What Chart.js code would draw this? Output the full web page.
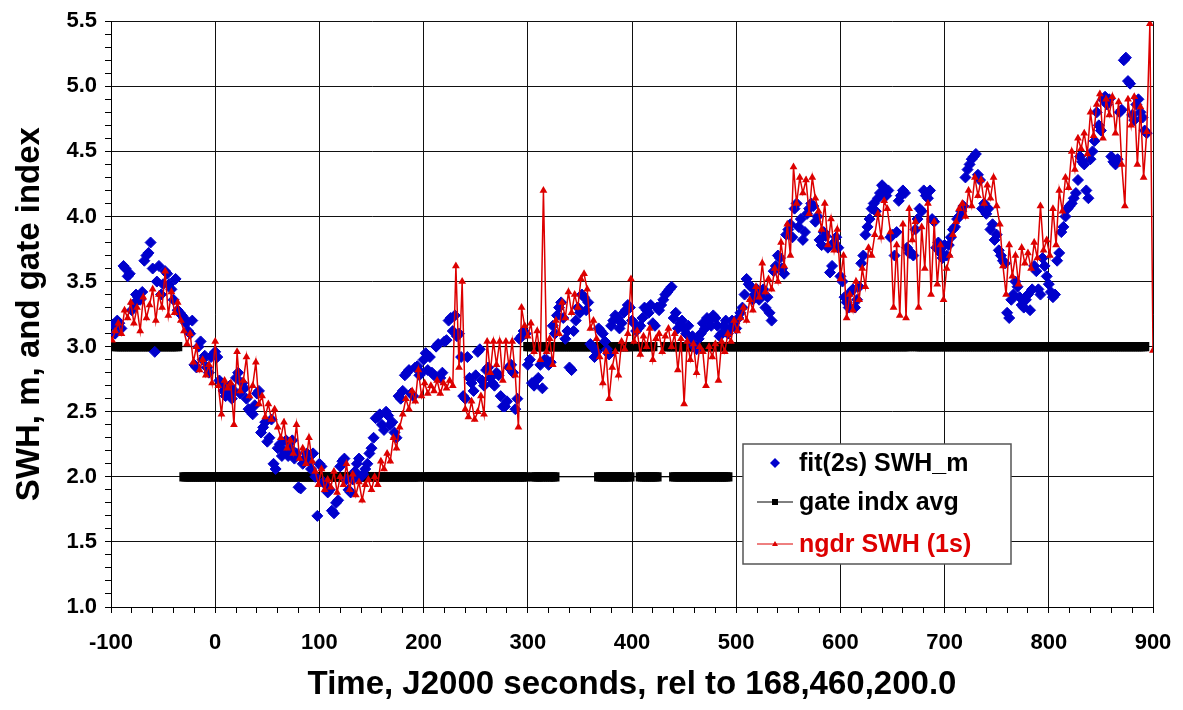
<!DOCTYPE html>
<html>
<head>
<meta charset="utf-8">
<script src="https://cdn.jsdelivr.net/npm/chart.js@4.4.0/dist/chart.umd.min.js"></script>
<style>
  body { margin: 0; background: #fff; }
  #caja { width: 1183px; height: 710px; }
</style>
</head>
<body>
<div id="caja"><canvas id="grafica" width="1183" height="710"></canvas></div>
<script>
// fit(2s) SWH_m  -> one value every 2 s, first point at t = -98
const fitStart = -98, fitStep = 2;
const fitSWH = [
  3.17,3.10, 3.20,3.18, 3.14,3.62, 3.60,3.54, 3.56,3.28, 3.33,3.40, 3.38,3.36, 3.42,3.66, 3.70,3.72, 3.80,3.60,
  2.96,3.50, 3.62,3.40, 3.48,3.58, 3.56,3.48, 3.44,3.36, 3.52,3.28, 3.26,3.24, 3.22,3.18, 3.12,3.10, 3.20,2.86,
  2.84,3.00, 3.04,2.90, 2.93,2.84, 2.80,2.92, 2.94,2.96, 2.92,2.74, 2.72,2.66, 2.62,2.64, 2.70,2.60, 2.66,2.76,
  2.80,2.64, 2.72,2.68, 2.60,2.52, 2.50,2.48, 2.55,2.64, 2.66,2.34, 2.38,2.42, 2.27,2.30, 2.44,2.10, 2.06,2.22,
  2.25,2.16, 2.20,2.28, 2.16,2.22, 2.28,2.14, 2.18,1.92, 1.91,2.10, 2.14,2.18, 2.12,2.06, 2.18,2.00, 1.70,2.10,
  2.08,1.96, 1.94,1.88, 1.90,1.74, 1.72,1.80, 1.82,2.08, 2.12,2.14, 1.98,1.90, 1.88,1.98, 2.04,2.10, 2.14,2.00,
  2.02,2.06, 2.10,2.18, 2.22,2.30, 2.45,2.46, 2.48,2.40, 2.36,2.50, 2.47,2.40, 2.42,2.34, 2.30,2.62, 2.60,2.66,
  2.78,2.80, 2.82,2.64, 2.62,2.84, 2.85,2.78, 2.80,2.90, 2.95,2.82, 2.92,2.80, 2.78,3.00, 3.02,2.76, 2.80,3.04,
  3.05,3.20, 3.22,3.12, 3.24,3.08, 3.10,2.92, 2.62,2.60, 2.92,2.76, 2.72,2.66, 2.78,2.96, 2.98,2.74, 2.70,2.82,
  2.84,2.76, 2.72,2.70, 2.80,2.78, 2.62,2.54, 2.54,2.58, 2.84,2.86, 2.80,2.52, 2.60,3.06, 3.08,3.12, 3.10,2.86,
  2.90,2.72, 2.70,2.74, 2.76,2.86, 2.68,2.90, 2.90,2.86, 2.88,3.16, 3.10,3.24, 3.30,3.34, 3.22,3.06, 3.12,2.84,
  2.82,3.12, 3.20,3.30, 3.26,3.40, 3.38,3.28, 3.34,3.02, 3.00,2.92, 2.96,3.14, 3.12,3.10, 3.04,2.98, 2.94,3.16,
  3.20,3.24, 3.22,3.14, 3.18,3.26, 3.28,3.32, 3.30,3.20, 3.18,3.12, 3.14,3.16, 3.22,3.30, 3.28,3.26, 3.32,3.18,
  3.16,3.30, 3.28,3.32, 3.36,3.40, 3.42,3.44, 3.46,3.22, 3.26,3.14, 3.18,3.20, 3.14,3.10, 3.16,3.04, 3.08,3.00,
  2.98,3.06, 3.10,3.18, 3.14,3.22, 3.20,3.16, 3.24,3.22, 3.16,3.08, 3.10,3.16, 3.20,3.10, 3.14,3.20, 3.18,3.14,
  3.22,3.26, 3.30,3.40, 3.52,3.48, 3.46,3.36, 3.40,3.44, 3.36,3.40, 3.44,3.30, 3.38,3.26, 3.20,3.58, 3.62,3.70,
  3.68,3.60, 3.56,3.86, 3.90,3.94, 3.84,4.06, 4.10,3.92, 3.98,3.82, 3.88,4.02, 4.06,4.10, 4.08,3.96, 4.00,3.82,
  3.78,3.88, 3.85,3.76, 3.57,3.62, 3.80,3.84, 3.76,3.54, 3.50,3.38, 3.34,3.30, 3.42,3.44, 3.30,3.36, 3.46,3.64,
  3.70,3.86, 3.92,3.98, 4.06,4.10, 4.04,4.14, 4.18,4.24, 4.22,4.16, 4.20,3.84, 3.86,3.70, 3.88,4.12, 4.16,4.20,
  4.18,3.76, 3.72,3.72, 3.70,3.90, 3.98,4.06, 4.04,4.20, 4.16,4.14, 4.20,3.98, 3.96,3.76, 3.80,3.72, 3.68,3.78,
  3.70,3.78, 3.84,3.90, 3.92,3.98, 4.00,4.04, 4.08,4.30, 4.36,4.40, 4.44,4.46, 4.48,4.32, 4.28,4.06, 4.10,4.02,
  4.06,3.90, 3.94,3.82, 3.86,3.74, 3.70,3.66, 3.64,3.26, 3.22,3.36, 3.40,3.50, 3.46,3.38, 3.32,3.30, 3.36,3.40,
  3.28,3.44, 3.62,3.58, 3.44,3.40, 3.68,3.62, 3.54,3.48, 3.42,3.38, 3.40,3.66, 3.72,3.88, 3.92,4.00, 4.06,4.08,
  4.10,4.14, 4.18,4.28, 4.46,4.42, 4.40,4.20, 4.14,4.44, 4.50,4.58, 4.80,4.70, 4.66,4.90, 4.92,4.86, 4.90,4.46,
  4.42,4.40, 4.44,4.80, 4.82,5.20, 5.22,5.04, 5.02,4.78, 4.74,4.86, 4.90,4.80, 4.76,4.66, 4.64
];

const ngdrStart = -99, ngdrStep = 3;
const ngdrSWH = [
  3.05, 3.12, 3.18, 3.10, 3.28, 3.22, 3.34, 3.18, 3.30, 3.12,
  3.38, 3.22, 3.32, 3.44, 3.20, 3.40, 3.30, 3.58, 3.24, 3.42,
  3.26, 3.34, 3.20, 3.12, 3.02, 3.10, 2.88, 3.00, 2.82, 2.90,
  2.78, 2.86, 2.72, 3.04, 2.70, 2.48, 2.74, 2.68, 2.72, 2.40,
  2.96, 2.66, 2.74, 2.92, 2.62, 2.70, 2.88, 2.56, 2.62, 2.46,
  2.56, 2.44, 2.52, 2.38, 2.30, 2.42, 2.22, 2.28, 2.18, 2.40,
  2.14, 2.22, 2.10, 2.30, 2.12, 2.04, 1.94, 2.06, 1.90, 1.98,
  1.92, 2.04, 1.88, 2.00, 1.94, 2.10, 1.90, 2.02, 1.86, 1.96,
  1.82, 1.94, 1.98, 1.90, 2.00, 1.94, 2.12, 2.06, 2.18, 2.12,
  2.30, 2.22, 2.38, 2.48, 2.60, 2.52, 2.66, 2.58, 2.82, 2.62,
  2.72, 2.64, 2.70, 2.66, 2.74, 2.64, 2.72, 2.68, 2.74, 2.70,
  3.62, 2.84, 3.50, 2.52, 2.46, 2.58, 2.44, 2.50, 2.62, 2.48,
  3.04, 2.80, 3.04, 2.86, 3.04, 2.74, 3.04, 2.84, 3.04, 2.78,
  2.38, 3.30, 3.16, 3.08, 3.18, 2.96, 3.12, 2.90, 4.20, 2.96,
  3.06, 2.86, 3.20, 3.10, 3.34, 3.22, 3.42, 3.26, 3.40, 3.30,
  3.52, 3.56, 3.44, 3.14, 3.20, 3.06, 2.92, 2.72, 2.96, 2.60,
  2.84, 2.96, 2.78, 3.04, 2.98, 3.10, 3.52, 3.04, 3.12, 2.94,
  3.08, 3.00, 3.14, 2.90, 3.06, 3.10, 2.96, 3.08, 3.14, 3.00,
  3.10, 2.82, 3.06, 2.56, 3.04, 2.90, 3.02, 2.80, 3.00, 2.96,
  2.70, 3.00, 2.92, 3.02, 2.74, 3.04, 2.96, 3.10, 3.04, 3.20,
  3.12, 3.22, 3.30, 3.20, 3.36, 3.28, 3.46, 3.38, 3.64, 3.42,
  3.52, 3.44, 3.60, 3.50, 3.80, 3.62, 3.94, 3.70, 4.38, 4.10,
  4.30, 4.18, 4.28, 4.02, 4.30, 4.14, 4.04, 3.90, 4.10, 3.78,
  3.98, 3.74, 3.90, 3.52, 3.70, 3.22, 3.40, 3.28, 3.50, 3.36,
  3.60, 3.46, 3.76, 3.70, 3.86, 4.02, 3.84, 4.12, 4.06, 3.88,
  3.30, 3.78, 3.24, 3.94, 3.22, 4.06, 3.82, 3.96, 3.30, 3.92,
  3.60, 4.10, 3.40, 3.96, 3.48, 3.78, 3.36, 3.60, 3.70, 3.86,
  3.96, 4.06, 4.10, 4.00, 4.20, 4.08, 4.30, 4.16, 4.28, 4.10,
  4.24, 4.14, 4.30, 4.08, 3.94, 3.62, 3.40, 3.78, 3.54, 3.70,
  3.48, 3.76, 3.64, 3.72, 3.60, 3.80, 3.68, 4.08, 3.74, 3.82,
  3.70, 4.06, 3.78, 4.20, 4.04, 4.30, 4.22, 4.50, 4.36, 4.60,
  4.52, 4.64, 4.48, 4.80, 4.62, 4.86, 4.94, 4.60, 4.90, 4.78,
  4.92, 4.64, 4.88, 4.40, 4.08, 4.90, 4.70, 4.92, 4.40, 4.84,
  4.30, 4.65, 5.48, 2.97
];

// gate indx avg -> runs of a constant value, sampled every 2 s
const gateFrom  = [-96, 300, 372, 406, 432, 672, -30,   2, 202, 306, 320, 368, 408, 440];
const gateTo    = [-36, 366, 400, 420, 666, 892,  -2, 196, 298, 316, 326, 398, 424, 492];
const gateValue = [  3,   3,   3,   3,   3,   3,   2,   2,   2,   2,   2,   2,   2,   2];
const gateStep = 2;

// axis ranges
const xMin = -100, xMax = 900;
const yMin = 1.0, yMax = 5.5;

function puntos(inicio, paso, valores) {
  return valores.map((v, i) => ({ x: inicio + i * paso, y: v }));
}

function puntosGate(nivel) {
  const pts = [];
  for (let k = 0; k < gateFrom.length; k++) {
    if (gateValue[k] !== nivel) continue;
    for (let t = gateFrom[k]; t <= gateTo[k]; t += gateStep) {
      pts.push({ x: t, y: gateValue[k] });
    }
  }
  return pts;
}

const AZUL = '#0000cc';
const ROJO = '#dd0000';
const fuente = '"Liberation Sans", Arial, sans-serif';
Chart.defaults.font.family = fuente;
Chart.defaults.color = '#000';

// legend drawn inside the plot, like the original
const leyenda = {
  id: 'leyenda',
  afterDatasetsDraw(chart) {
    const c = chart.ctx;
    c.save();
    c.fillStyle = '#fff';
    c.fillRect(743, 444, 268, 120);
    c.strokeStyle = '#555';
    c.lineWidth = 1.5;
    c.strokeRect(743, 444, 268, 120);

    // fit(2s) SWH_m
    c.fillStyle = AZUL;
    c.beginPath();
    c.moveTo(775, 458); c.lineTo(780, 463); c.lineTo(775, 468); c.lineTo(770, 463);
    c.closePath();
    c.fill();

    // gate indx avg
    c.strokeStyle = '#000';
    c.lineWidth = 1;
    c.beginPath(); c.moveTo(757, 502); c.lineTo(793, 502); c.stroke();
    c.fillStyle = '#000';
    c.fillRect(772, 499, 6, 6);

    // ngdr SWH (1s)
    c.strokeStyle = ROJO;
    c.beginPath(); c.moveTo(757, 544); c.lineTo(793, 544); c.stroke();
    c.fillStyle = ROJO;
    c.beginPath(); c.moveTo(775, 541); c.lineTo(778, 546); c.lineTo(772, 546); c.closePath(); c.fill();

    c.font = 'bold 25px ' + fuente;
    c.textBaseline = 'middle';
    c.fillStyle = '#000';
    c.fillText('fit(2s) SWH_m', 799, 464);
    c.fillText('gate indx avg', 799, 503);
    c.fillStyle = ROJO;
    c.fillText('ngdr SWH (1s)', 799, 545);
    c.restore();
  }
};

const esMayorY = v => Math.abs(v * 2 - Math.round(v * 2)) < 1e-6;

const ctx = document.getElementById('grafica').getContext('2d');
const myChart = new Chart(ctx, {
  type: 'line',
  data: {
    datasets: [{
      label: 'ngdr SWH (1s)',
      data: puntos(ngdrStart, ngdrStep, ngdrSWH),
      borderColor: ROJO,
      borderWidth: 1.5,
      pointStyle: 'triangle',
      pointRadius: 4.5,
      pointBackgroundColor: ROJO,
      pointBorderColor: ROJO,
      pointBorderWidth: 0,
      order: 0
    }, {
      label: 'fit(2s) SWH_m',
      data: puntos(fitStart, fitStep, fitSWH),
      showLine: false,
      pointStyle: 'rectRot',
      pointRadius: 5.5,
      pointBackgroundColor: AZUL,
      pointBorderColor: AZUL,
      pointBorderWidth: 1,
      order: 1
    }, {
      label: 'gate indx avg',
      data: puntosGate(3),
      borderColor: '#000',
      borderWidth: 1,
      pointStyle: 'rect',
      pointRadius: 6.5,
      pointBackgroundColor: '#000',
      pointBorderWidth: 0,
      order: 2
    }, {
      label: 'gate indx avg 2',
      data: puntosGate(2),
      borderColor: '#000',
      borderWidth: 1,
      pointStyle: 'rect',
      pointRadius: 6.5,
      pointBackgroundColor: '#000',
      pointBorderWidth: 0,
      order: 2
    }]
  },
  options: {
    responsive: false,
    animation: false,
    events: [],
    layout: { autoPadding: false, padding: { left: 0, top: 20, right: 30, bottom: 0 } },
    plugins: { legend: { display: false }, tooltip: { enabled: false } },
    scales: {
      x: {
        type: 'linear',
        min: xMin, max: xMax,
        ticks: {
          stepSize: 20, autoSkip: false, maxRotation: 0, padding: 17,
          font: { size: 22, weight: 'bold' },
          callback: v => (v % 100 === 0 ? String(v) : '')
        },
        grid: {
          color: c => (c.tick && c.tick.value % 100 === 0 ? '#111' : 'rgba(0,0,0,0)'),
          tickColor: '#000',
          tickLength: 6
        },
        border: { color: '#000', width: 1 },
        title: {
          display: true,
          text: 'Time, J2000 seconds, rel to 168,460,200.0',
          font: { size: 33, weight: 'bold' },
          padding: { top: 0, bottom: 5 }
        },
        afterFit: s => { s.height = 103; s.paddingLeft = 0; s.paddingRight = 0; }
      },
      y: {
        min: yMin, max: yMax,
        ticks: {
          stepSize: 0.1, autoSkip: false, padding: 8,
          font: { size: 22, weight: 'bold' },
          callback: v => (esMayorY(v) ? v.toFixed(1) : '')
        },
        grid: {
          color: c => (c.tick && esMayorY(c.tick.value) ? '#111' : 'rgba(0,0,0,0)'),
          tickColor: '#000',
          tickLength: 6
        },
        border: { color: '#000', width: 1 },
        title: {
          display: true,
          text: 'SWH, m, and gate index',
          font: { size: 33, weight: 'bold' },
          padding: { top: 10, bottom: 0 }
        },
        afterFit: s => { s.width = 111; }
      }
    }
  },
  plugins: [leyenda]
});
</script>
</body>
</html>
